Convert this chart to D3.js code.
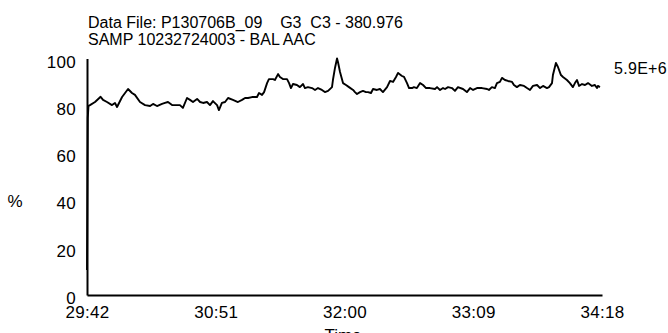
<!DOCTYPE html>
<meta charset="utf-8">
<style>
body { margin: 0; background: #fff; }
svg text { font-family: "Liberation Sans", Arial, sans-serif; fill: #000; }
.trace { fill: none; stroke: #000; stroke-width: 1.9px; stroke-linejoin: round; }
.axis path { stroke: #000; stroke-width: 2px; }
.axis text { font-size: 17px; letter-spacing: 0.3px; }
</style>
<body>
<script src="https://d3js.org/d3.v7.min.js"></script>
<script>

// title lines
var titleLines = ["Data File: P130706B_09    G3  C3 - 380.976",
                  "SAMP 10232724003 - BAL AAC"];
var maxLabel = "5.9E+6";

// tick values (seconds) -> shown as mm:ss
var xTicks = [1782, 1851, 1920, 1989, 2058];
var yTicks = [0, 20, 40, 60, 80, 100];

// trace, time in seconds
var times = [
  1782.0, 1782.4, 1782.8, 1783.6, 1786.3, 1789.3, 1790.6, 1792.7, 1795.4, 1797.0,
  1798.1, 1800.8, 1802.4, 1804.0, 1806.1, 1807.7, 1810.4, 1813.1, 1815.8, 1817.4,
  1819.5, 1822.2, 1823.8, 1825.4, 1827.6, 1829.2, 1831.8, 1833.4, 1835.6, 1837.2,
  1838.8, 1841.0, 1842.6, 1844.2, 1846.3, 1847.9, 1849.5, 1851.7, 1852.7, 1854.3,
  1856.0, 1857.6, 1860.2, 1862.9, 1865.1, 1866.7, 1868.3, 1870.4, 1873.1, 1874.2,
  1875.8, 1876.9, 1878.5, 1879.5, 1881.7, 1882.7, 1884.4, 1885.4, 1887.0, 1889.2,
  1890.3, 1891.3, 1892.4, 1894.5, 1896.1, 1897.8, 1898.8, 1900.4, 1902.6, 1904.2,
  1905.8, 1907.9, 1909.5, 1911.2, 1913.3, 1913.8, 1914.9, 1916.0, 1916.5, 1917.6,
  1919.2, 1920.8, 1922.4, 1924.6, 1925.6, 1926.7, 1928.3, 1929.9, 1931.5, 1932.6,
  1934.2, 1935.3, 1937.4, 1939.0, 1940.6, 1942.8, 1944.4, 1946.0, 1947.6, 1948.7,
  1950.8, 1951.9, 1953.5, 1954.6, 1956.2, 1957.2, 1958.8, 1960.5, 1962.1, 1963.7,
  1965.8, 1968.5, 1969.6, 1971.2, 1972.8, 1973.9, 1975.5, 1977.6, 1979.2, 1980.8,
  1983.5, 1985.6, 1987.3, 1988.9, 1991.0, 1993.7, 1996.4, 1997.4, 1999.0, 2000.6,
  2001.7, 2003.3, 2004.4, 2006.0, 2007.6, 2009.8, 2010.8, 2012.4, 2014.0, 2016.2,
  2017.8, 2019.4, 2021.0, 2023.2, 2024.8, 2026.4, 2028.5, 2029.6, 2031.2, 2031.7,
  2033.3, 2034.4, 2036.0, 2037.1, 2039.2, 2040.8, 2042.4, 2043.5, 2044.6, 2045.7,
  2047.3, 2048.9, 2050.5, 2052.6, 2054.2, 2055.3, 2055.8, 2056.9
];
// relative abundance %
var values = [
  10.6, 74.8, 80.0, 80.3, 81.6, 83.8, 82.5, 81.6, 80.3, 81.2,
  79.5, 83.7, 85.4, 87.1, 85.4, 84.6, 81.6, 80.3, 79.9, 80.8,
  79.9, 80.8, 81.2, 81.6, 80.3, 80.3, 80.3, 79.1, 83.3, 82.5,
  81.6, 82.9, 81.6, 81.2, 81.6, 80.3, 82.0, 80.3, 78.2, 81.2,
  81.6, 83.3, 82.5, 81.6, 82.5, 83.3, 83.3, 83.7, 83.7, 85.4,
  84.6, 85.8, 89.6, 91.3, 91.3, 90.9, 93.4, 92.2, 91.3, 91.3,
  89.6, 87.5, 89.2, 88.8, 87.9, 89.2, 87.5, 87.9, 87.5, 86.7,
  87.5, 86.7, 85.8, 86.3, 87.9, 90.9, 96.0, 100.0, 98.5, 94.3,
  89.6, 88.8, 87.9, 86.7, 85.8, 85.0, 85.8, 86.3, 85.8, 85.8,
  85.4, 87.1, 86.7, 87.1, 85.8, 87.9, 90.5, 90.1, 92.2, 93.9,
  92.6, 92.2, 89.6, 87.5, 87.5, 87.9, 87.5, 89.6, 88.8, 87.5,
  87.5, 87.1, 87.9, 86.7, 87.5, 87.1, 87.9, 87.5, 86.3, 87.9,
  87.1, 85.8, 87.5, 86.7, 87.5, 87.5, 87.1, 86.7, 87.9, 87.5,
  89.6, 90.1, 91.8, 90.9, 90.5, 90.1, 88.8, 87.9, 88.8, 88.4,
  87.5, 86.7, 88.4, 88.8, 87.5, 88.4, 87.5, 87.9, 89.6, 93.0,
  98.1, 96.4, 93.0, 92.2, 90.9, 89.6, 87.9, 89.6, 90.9, 88.4,
  89.2, 88.8, 89.6, 88.4, 88.8, 87.5, 88.4, 87.9
];

var width = 668, height = 333;

var x = d3.scaleLinear().domain([xTicks[0], xTicks[xTicks.length - 1]]).range([87, 602]);
var y = d3.scaleLinear().domain([0, 100]).range([295, 58.5]);

function mmss(s) {
  var m = Math.floor(s / 60), r = Math.round(s - m * 60);
  return m + ":" + (r < 10 ? "0" : "") + r;
}

var svg = d3.select("body").append("svg")
    .attr("width", width)
    .attr("height", height);

// title
svg.selectAll(".title")
    .data(titleLines)
  .enter().append("text")
    .attr("class", "title")
    .attr("x", 88)
    .attr("y", function(d, i) { return 28 + i * 17; })
    .attr("font-size", "16px")
    .style("white-space", "pre")
    .text(function(d) { return d; });

// trace
var line = d3.line()
    .x(function(d, i) { return x(times[i]); })
    .y(function(d) { return y(d); });

svg.append("path")
    .datum(values)
    .attr("class", "trace")
    .attr("d", line);

// axes
svg.append("g")
    .attr("class", "axis")
    .attr("transform", "translate(0,295)")
    .call(d3.axisBottom(x).tickValues(xTicks).tickFormat(mmss).tickSize(0).tickPadding(11));

svg.append("g")
    .attr("class", "axis")
    .attr("transform", "translate(87,0)")
    .call(d3.axisLeft(y).tickValues(yTicks).tickSize(0).tickPadding(11))
    .selectAll("text").attr("dy", "0.5em");

svg.selectAll(".axis .domain").attr("stroke-width", 2);

// axis titles
svg.append("text")
    .attr("x", 343)
    .attr("y", 341)
    .attr("text-anchor", "middle")
    .attr("font-size", "17px")
    .text("Time");

svg.append("text")
    .attr("x", 15)
    .attr("y", 207)
    .attr("text-anchor", "middle")
    .attr("font-size", "17px")
    .text("%");

svg.append("text")
    .attr("x", 614)
    .attr("y", 74)
    .attr("font-size", "16px")
    .style("letter-spacing", "0.3px")
    .text(maxLabel);

</script>
</body>
